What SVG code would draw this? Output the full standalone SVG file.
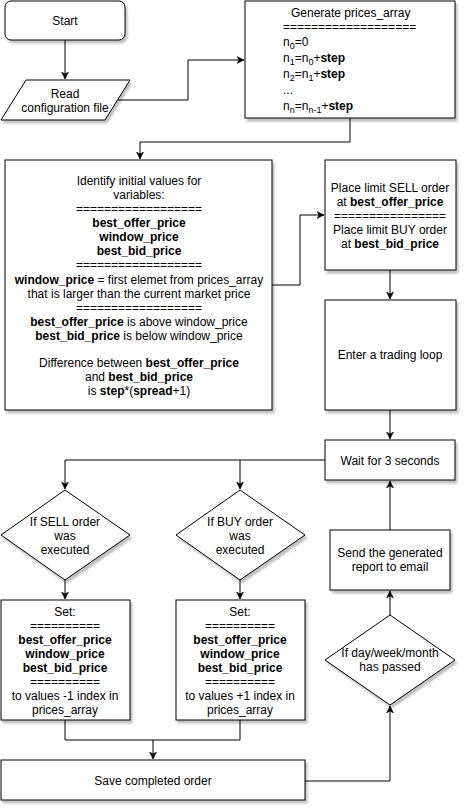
<svg xmlns="http://www.w3.org/2000/svg" width="467" height="812" viewBox="0 0 467 812">
<style>
.n{fill:#fff;stroke:#000;stroke-width:1;filter:url(#sh)}
text{font-family:"Liberation Sans",Arial,sans-serif;font-size:12px;fill:#000}
.c{text-anchor:middle}
.b{font-weight:bold}
.e{fill:none;stroke:#000;stroke-width:1;marker-end:url(#ar)}
.l{fill:none;stroke:#000;stroke-width:1}
</style>
<defs>
<filter id="sh" x="-10%" y="-10%" width="130%" height="130%">
<feDropShadow dx="2" dy="3" stdDeviation="1.2" flood-color="#000" flood-opacity="0.25"/>
</filter>
<marker id="ar" markerWidth="8" markerHeight="8" refX="7" refY="4" orient="auto" markerUnits="userSpaceOnUse">
<path d="M0,0.5 L7,4 L0,7.5 L2,4 Z" fill="#000" stroke="#000" stroke-width="0.5"/>
</marker>
</defs>
<rect width="467" height="812" fill="#fff"/>
<g id="connectors">
<path class="e" d="M65,40 V79"/>
<path class="e" d="M118,100 H188 V60 H244"/>
<path class="e" d="M350,118 V142 H140 V159"/>
<path class="e" d="M272,285 H300 V215 H324"/>
<path class="e" d="M390,270 V299"/>
<path class="e" d="M390,410 V439"/>
<path class="e" d="M325,460 H65 V489"/>
<path class="e" d="M240,460 V489"/>
<path class="e" d="M65,580 V599"/>
<path class="e" d="M240,580 V599"/>
<path class="l" d="M65,720 V740 H240 V720"/>
<path class="e" d="M153,740 V759"/>
<path class="e" d="M305,781 H390 V706"/>
<path class="e" d="M390,615 V591"/>
<path class="e" d="M390,530 V481"/>
</g>
<g id="start">
<rect class="n" x="5" y="1" width="120" height="39" rx="6"/>
<text class="c" x="65" y="25">Start</text>
</g>
<g id="read">
<path class="n" d="M26,80 H130 L105,120 H1 Z"/>
<text class="c" x="65" y="98">Read</text>
<text class="c" x="65" y="112">configuration file</text>
</g>
<g id="generate">
<rect class="n" x="245" y="1" width="210" height="117"/>
<text x="291" y="17">Generate prices_array</text>
<text x="283" y="31">===================</text>
<text x="283" y="46">n<tspan font-size="9" dy="3">0</tspan><tspan dy="-3">=0</tspan></text>
<text x="283" y="62">n<tspan font-size="9" dy="3">1</tspan><tspan dy="-3">=n</tspan><tspan font-size="9" dy="3">0</tspan><tspan dy="-3">+</tspan><tspan class="b">step</tspan></text>
<text x="283" y="78">n<tspan font-size="9" dy="3">2</tspan><tspan dy="-3">=n</tspan><tspan font-size="9" dy="3">1</tspan><tspan dy="-3">+</tspan><tspan class="b">step</tspan></text>
<text x="283" y="94">...</text>
<text x="283" y="110">n<tspan font-size="9" dy="3">n</tspan><tspan dy="-3">=n</tspan><tspan font-size="9" dy="3">n-1</tspan><tspan dy="-3">+</tspan><tspan class="b">step</tspan></text>
</g>
<g id="identify">
<rect class="n" x="5" y="160" width="267" height="250"/>
<text class="c" x="139" y="185">Identify initial values for</text>
<text class="c" x="139" y="199">variables:</text>
<text class="c" x="139" y="213">==================</text>
<text class="c b" x="139" y="227">best_offer_price</text>
<text class="c b" x="139" y="241">window_price</text>
<text class="c b" x="139" y="255">best_bid_price</text>
<text class="c" x="139" y="269">==================</text>
<text class="c" x="139" y="284"><tspan class="b">window_price</tspan> = first elemet from prices_array</text>
<text class="c" x="139" y="298">that is larger than the current market price</text>
<text class="c" x="139" y="312">==================</text>
<text class="c" x="139" y="326"><tspan class="b">best_offer_price</tspan> is above window_price</text>
<text class="c" x="139" y="340"><tspan class="b">best_bid_price</tspan> is below window_price</text>
<text class="c" x="139" y="367">Difference between <tspan class="b">best_offer_price</tspan></text>
<text class="c" x="139" y="381">and <tspan class="b">best_bid_price</tspan></text>
<text class="c" x="139" y="395">is <tspan class="b">step</tspan>*(<tspan class="b">spread</tspan>+1)</text>
</g>
<g id="place">
<rect class="n" x="325" y="160" width="131" height="110"/>
<text class="c" x="390" y="192">Place limit SELL order</text>
<text class="c" x="390" y="206">at <tspan class="b">best_offer_price</tspan></text>
<text class="c" x="390" y="220">================</text>
<text class="c" x="390" y="234">Place limit BUY order</text>
<text class="c" x="390" y="248">at <tspan class="b">best_bid_price</tspan></text>
</g>
<g id="loop">
<rect class="n" x="325" y="300" width="131" height="110"/>
<text class="c" x="390" y="359">Enter a trading loop</text>
</g>
<g id="wait">
<rect class="n" x="325" y="440" width="130" height="40"/>
<text class="c" x="390" y="465">Wait for 3 seconds</text>
</g>
<g id="sell-check">
<path class="n" d="M65,490 L130,535 L65,580 L1,535 Z"/>
<text class="c" x="65" y="526">If SELL order</text>
<text class="c" x="65" y="540">was</text>
<text class="c" x="65" y="554">executed</text>
</g>
<g id="buy-check">
<path class="n" d="M240,490 L305,535 L240,580 L176,535 Z"/>
<text class="c" x="240" y="526">If BUY order</text>
<text class="c" x="240" y="540">was</text>
<text class="c" x="240" y="554">executed</text>
</g>
<g id="set-sell">
<rect class="n" x="1" y="600" width="129" height="120"/>
<text class="c" x="65" y="616">Set:</text>
<text class="c" x="65" y="630">==========</text>
<text class="c b" x="65" y="644">best_offer_price</text>
<text class="c b" x="65" y="658">window_price</text>
<text class="c b" x="65" y="672">best_bid_price</text>
<text class="c" x="65" y="686">==========</text>
<text class="c" x="65" y="700">to values -1 index in</text>
<text class="c" x="65" y="714">prices_array</text>
</g>
<g id="set-buy">
<rect class="n" x="176" y="600" width="129" height="120"/>
<text class="c" x="240" y="616">Set:</text>
<text class="c" x="240" y="630">==========</text>
<text class="c b" x="240" y="644">best_offer_price</text>
<text class="c b" x="240" y="658">window_price</text>
<text class="c b" x="240" y="672">best_bid_price</text>
<text class="c" x="240" y="686">==========</text>
<text class="c" x="240" y="700">to values +1 index in</text>
<text class="c" x="240" y="714">prices_array</text>
</g>
<g id="save">
<rect class="n" x="1" y="760" width="304" height="40"/>
<text class="c" x="153" y="785">Save completed order</text>
</g>
<g id="period-check">
<path class="n" d="M390,615 L455,660 L390,705 L325,660 Z"/>
<text class="c" x="390" y="657">If day/week/month</text>
<text class="c" x="390" y="671">has passed</text>
</g>
<g id="send">
<rect class="n" x="330" y="530" width="120" height="60"/>
<text class="c" x="390" y="557">Send the generated</text>
<text class="c" x="390" y="571">report to email</text>
</g>
</svg>
